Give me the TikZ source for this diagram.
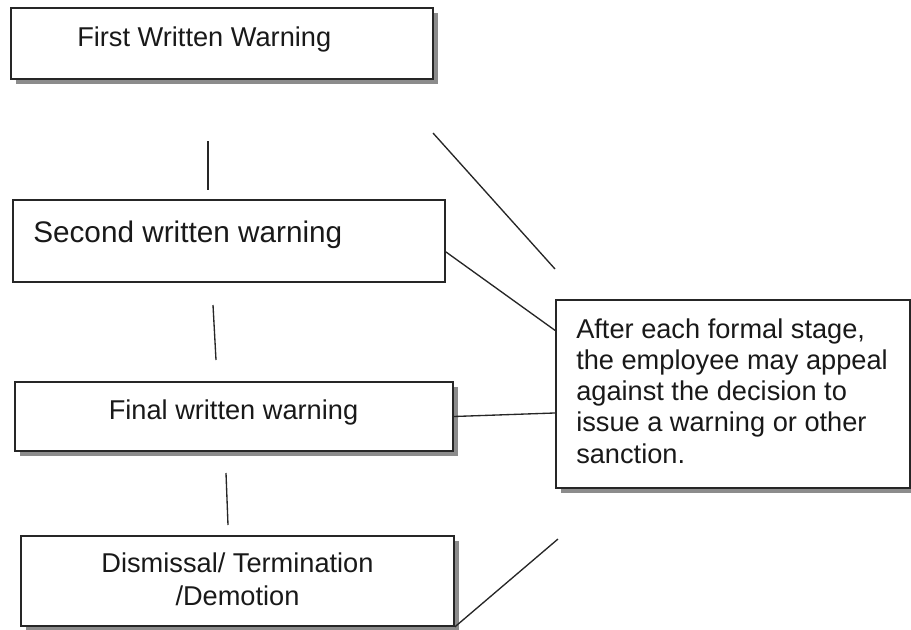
\documentclass[tikz,border=0pt]{standalone}
\usepackage{fontspec}
\setmainfont{Liberation Sans}
\usetikzlibrary{calc,shadows}
\begin{document}
\begin{tikzpicture}[x=0.75pt,y=-0.75pt,
  box/.style={draw=black!85, line width=1.3pt, fill=white, inner sep=0pt, rectangle},
  shbox/.style={box, copy shadow={shadow xshift=3.5pt, shadow yshift=-3.5pt, draw=none, fill=black!45}},
  txt/.style={inner sep=0pt, text=black!90, font=\fontsize{20.4}{24}\selectfont},
  ln/.style={line width=1pt, draw=black!85}]
\useasboundingbox (0,0) rectangle (911,629);
\fill[white] (0,0) rectangle (911,629);
% boxes
\node[shbox, minimum width=316.5pt, minimum height=53.25pt] (b1) at (222,43.5) {};
\node[box,   minimum width=324pt,   minimum height=61.5pt]  (b2) at (229,241) {};
\node[shbox, minimum width=328.5pt, minimum height=51.75pt] (b3) at (234,416.5) {};
\node[shbox, minimum width=324.75pt,minimum height=67.5pt]  (b4) at (237.5,581) {};
\node[shbox, minimum width=265.5pt, minimum height=141pt]   (b5) at (733,394) {};
% texts
\node[txt, anchor=base west] (t1) at (77,46) {First Written Warning};
\node[txt, anchor=base west, font=\fontsize{22.3}{26}\selectfont] (t2) at (33,242) {Second written warning};
\node[txt, anchor=base] (t3) at (233.5,419) {Final written warning};
\node[txt, anchor=base, align=center, font=\fontsize{20.4}{24.75}\selectfont] (t4) at (237.5,605) {Dismissal/ Termination\\/Demotion};
\node[txt, anchor=base west, align=left, font=\fontsize{20.4}{23.4}\selectfont] (t5) at (576,463) {After each formal stage,\\the employee may appeal\\against the decision to\\issue a warning or other\\sanction.};
% free line ends
\coordinate (v1a) at (208,141); \coordinate (v1b) at (208,190);
\coordinate (v2a) at (213,305); \coordinate (v2b) at (216,360);
\coordinate (v3a) at (226,473); \coordinate (v3b) at (228,525);
\coordinate (d1a) at (433,133); \coordinate (d1b) at (555,269);
\coordinate (d4) at (558,539);
% connectors
\draw[ln] (v1a) -- (v1b);
\draw[ln] (v2a) -- (v2b);
\draw[ln] (v3a) -- (v3b);
\draw[ln] (d1a) -- (d1b);
\draw[ln] ($(b2.north east)!0.63!(b2.south east)$) -- ($(b5.north west)!0.165!(b5.south west)$);
\draw[ln] (b3.east) -- ($(b5.north west)!0.6!(b5.south west)$);
\draw[ln] (b4.south east) -- (d4);
\end{tikzpicture}
\end{document}
